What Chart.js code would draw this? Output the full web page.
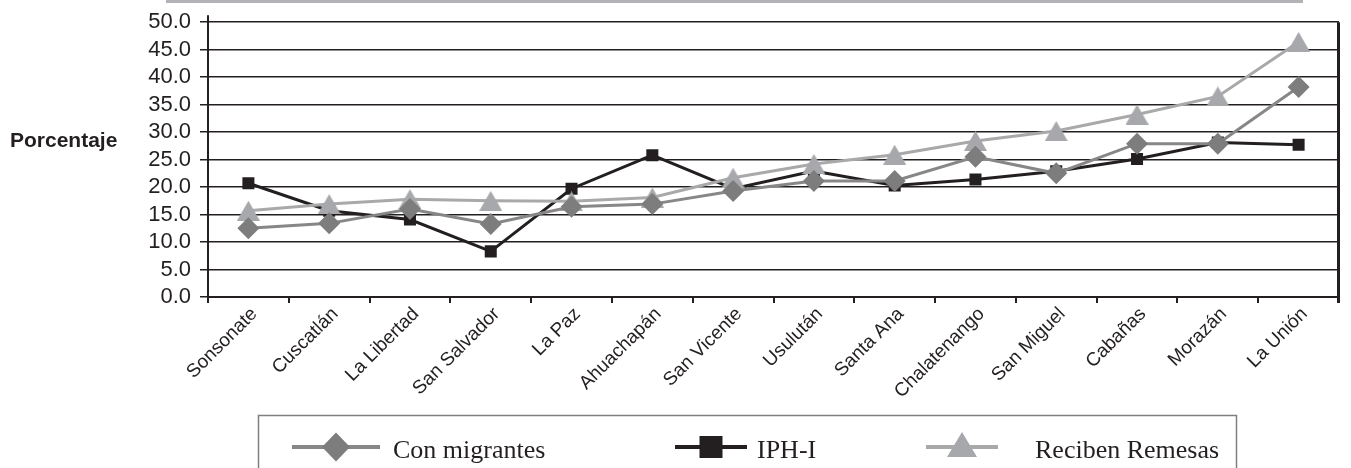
<!DOCTYPE html>
<html>
<head>
  <title>Con migrantes, IPH-I y Reciben Remesas por departamento</title>
  <script src="https://cdn.jsdelivr.net/npm/chart.js"></script>
  <style>
    body { margin: 0; background: #fff; }
    #wrap { position: relative; width: 1351px; height: 468px; }
    #topBar { position: absolute; left: 166px; top: 0; width: 1137px; height: 3px; background: #b1b3b6; }
  </style>
</head>
<body>
  <div id="wrap">
    <div id="topBar"></div>
    <canvas id="chart" width="1351" height="468"></canvas>
  </div>
  <script>
    // departamentos
    const categories = ["Sonsonate", "Cuscatlán", "La Libertad", "San Salvador", "La Paz", "Ahuachapán",
      "San Vicente", "Usulután", "Santa Ana", "Chalatenango", "San Miguel", "Cabañas", "Morazán", "La Unión"];

    // porcentajes
    const conMigrantes = [12.5, 13.4, 16.0, 13.3, 16.4, 16.9, 19.3, 21.1, 21.1, 25.5, 22.5, 27.9, 27.9, 38.2];
    const iphI = [20.7, 15.7, 14.1, 8.3, 19.7, 25.8, 19.7, 22.9, 20.3, 21.4, 22.9, 25.1, 28.1, 27.7];
    const recibenRemesas = [15.7, 16.9, 17.8, 17.5, 17.4, 18.1, 21.7, 24.2, 25.9, 28.4, 30.2, 33.2, 36.5, 46.4];

    const seriesNames = ["Con migrantes", "IPH-I", "Reciben Remesas"];
    const yMin = 0, yMax = 50, yStep = 5;

    const ink = "#231f20";

    // triangle centred on its box (Excel style) instead of Chart.js circumcentre
    function triangleImage(w, h, color) {
      const c = document.createElement("canvas");
      c.width = w; c.height = h;
      const g = c.getContext("2d");
      g.fillStyle = color;
      g.beginPath();
      g.moveTo(w / 2, 0);
      g.lineTo(w, h);
      g.lineTo(0, h);
      g.closePath();
      g.fill();
      return c;
    }

    const styles = [
      { line: "#878787", fill: "#7d7d7d", shape: "diamond" },
      { line: ink, fill: ink, shape: "square" },
      { line: "#a9a9a9", fill: "#a6a8ab", shape: "triangle" }
    ];

    // legend slots: marker centre, half line length, text x
    const legendSlots = [
      { marker: 336, half: 44, text: 393 },
      { marker: 711, half: 36, text: 757 },
      { marker: 962, half: 36, text: 1035 }
    ];

    const extras = {
      id: "extras",
      afterDraw(chart) {
        const ctx = chart.ctx;
        const a = chart.chartArea;
        ctx.save();

        // axis title
        ctx.fillStyle = ink;
        ctx.font = "bold 21px 'Liberation Sans', Arial, sans-serif";
        ctx.textBaseline = "alphabetic";
        ctx.textAlign = "left";
        ctx.fillText("Porcentaje", 10, 147);

        // left axis a bit above the top gridline, right frame line
        ctx.strokeStyle = ink;
        ctx.lineWidth = 2;
        ctx.beginPath();
        ctx.moveTo(a.left, a.top - 7);
        ctx.lineTo(a.left, a.top);
        ctx.stroke();
        ctx.lineWidth = 3;
        ctx.beginPath();
        ctx.moveTo(a.right - 0.5, a.top);
        ctx.lineTo(a.right - 0.5, a.bottom + 6);
        ctx.stroke();

        // legend box
        ctx.strokeStyle = "#7f7f7f";
        ctx.lineWidth = 1.5;
        ctx.strokeRect(258.5, 415.5, 978, 100);

        const my = 447;
        chart.data.datasets.forEach((ds, i) => {
          const s = legendSlots[i];
          const st = styles[i];
          ctx.strokeStyle = st.line;
          ctx.lineWidth = 4;
          ctx.beginPath();
          ctx.moveTo(s.marker - s.half, my);
          ctx.lineTo(s.marker + s.half, my);
          ctx.stroke();
          ctx.fillStyle = st.fill;
          ctx.beginPath();
          if (st.shape === "diamond") {
            ctx.moveTo(s.marker, my - 14.5);
            ctx.lineTo(s.marker + 14, my);
            ctx.lineTo(s.marker, my + 14.5);
            ctx.lineTo(s.marker - 14, my);
          } else if (st.shape === "square") {
            ctx.rect(s.marker - 11.5, my - 11, 23, 22);
          } else {
            ctx.moveTo(s.marker, my - 15);
            ctx.lineTo(s.marker + 15, my + 10);
            ctx.lineTo(s.marker - 15, my + 10);
          }
          ctx.closePath();
          ctx.fill();
          ctx.fillStyle = ink;
          ctx.font = "26px 'Liberation Serif', 'Times New Roman', serif";
          ctx.fillText(ds.label, s.text, 458);
        });
        ctx.restore();
      }
    };

    const ctx = document.getElementById("chart").getContext("2d");
    new Chart(ctx, {
      type: "line",
      data: {
        labels: categories,
        datasets: [
          {
            label: seriesNames[0],
            data: conMigrantes,
            borderColor: styles[0].line,
            borderWidth: 3,
            pointStyle: "rectRot",
            pointRadius: 11,
            pointBackgroundColor: styles[0].fill,
            pointBorderWidth: 0,
            order: 0
          },
          {
            label: seriesNames[1],
            data: iphI,
            borderColor: styles[1].line,
            borderWidth: 3,
            pointStyle: "rect",
            pointRadius: 8.5,
            pointBackgroundColor: styles[1].fill,
            pointBorderWidth: 0,
            order: 2
          },
          {
            label: seriesNames[2],
            data: recibenRemesas,
            borderColor: styles[2].line,
            borderWidth: 3,
            pointStyle: triangleImage(23, 20, styles[2].fill),
            pointRadius: 12,
            pointBackgroundColor: styles[2].fill,
            pointBorderWidth: 0,
            order: 1
          }
        ]
      },
      options: {
        responsive: false,
        animation: false,
        events: [],
        layout: { padding: { top: 21, right: 4, left: 0, bottom: 0 } },
        elements: { line: { tension: 0, fill: false } },
        plugins: {
          legend: { display: false },
          tooltip: { enabled: false }
        },
        scales: {
          x: {
            offset: true,
            afterFit: s => { s.height = 171; },
            grid: {
              offset: true,
              drawOnChartArea: false,
              drawTicks: true,
              tickLength: 6,
              color: ink,
              lineWidth: 2
            },
            border: { color: ink, width: 2 },
            ticks: {
              autoSkip: false,
              minRotation: 45,
              maxRotation: 45,
              padding: 0,
              labelOffset: 6,
              color: ink,
              font: { family: "'Liberation Sans', Arial, sans-serif", size: 19 }
            }
          },
          y: {
            min: yMin,
            max: yMax,
            afterFit: s => { s.width = 208; },
            grid: {
              color: ink,
              lineWidth: 1.5,
              tickLength: 8
            },
            border: { color: ink, width: 2 },
            ticks: {
              autoSkip: false,
              stepSize: yStep,
              padding: 9,
              color: ink,
              font: { family: "'Liberation Sans', Arial, sans-serif", size: 22 },
              callback: v => Number(v).toFixed(1)
            }
          }
        }
      },
      plugins: [extras]
    });
  </script>
</body>
</html>
